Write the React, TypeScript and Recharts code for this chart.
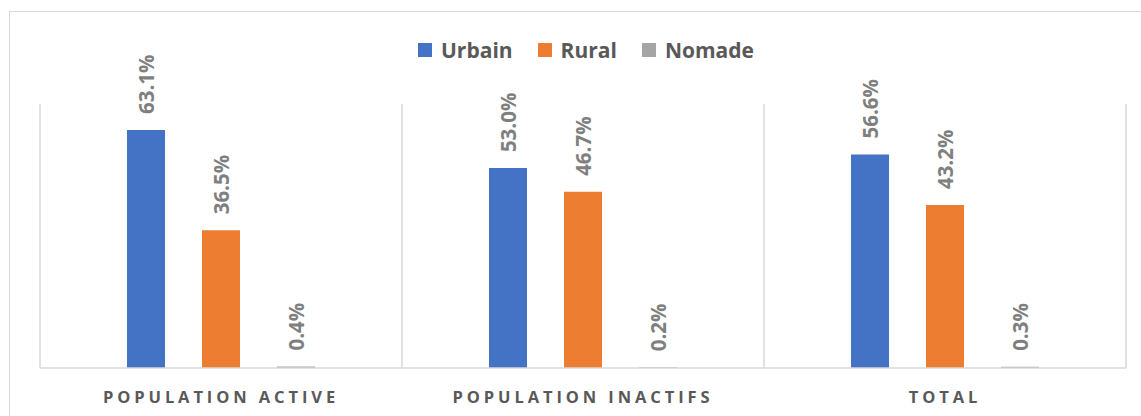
import { BarChart, Bar, XAxis, YAxis, CartesianGrid, LabelList } from 'recharts';

const categories = ['POPULATION ACTIVE', 'POPULATION INACTIFS', 'TOTAL'];
const urbain = [63.1, 53.0, 56.6];
const rural = [36.5, 46.7, 43.2];
const nomade = [0.4, 0.2, 0.3];

const SERIES = [
  { key: 'urbain', name: 'Urbain', color: '#4472C4' },
  { key: 'rural', name: 'Rural', color: '#ED7D31' },
  { key: 'nomade', name: 'Nomade', color: '#A5A5A5' },
];

const data = categories.map((name, i) => ({
  name,
  urbain: urbain[i],
  rural: rural[i],
  nomade: nomade[i],
}));

const FONT = '"Open Sans", "Noto Sans", sans-serif';

// rotated value label sitting above each bar
const RotatedLabel = (props: any) => {
  const { x, y, width, value } = props;
  const cx = x + width / 2;
  const y0 = y - 16;
  return (
    <text
      x={cx}
      y={y0}
      transform={`rotate(-90 ${cx} ${y0})`}
      textAnchor="start"
      dominantBaseline="central"
      fill="#7F7F7F"
      fontFamily={FONT}
      fontWeight={700}
      fontSize={20.5}
    >
      {`${Number(value).toFixed(1)}%`}
    </text>
  );
};

const CategoryTick = (props: any) => {
  const { x, y, payload } = props;
  return (
    <text
      x={x}
      y={y}
      dy={35}
      textAnchor="middle"
      fill="#595959"
      fontFamily={FONT}
      fontWeight={700}
      fontSize={16.5}
      letterSpacing={3.9}
    >
      {payload.value}
    </text>
  );
};

export default function App() {
  return (
    <div style={{ position: 'fixed', left: 0, top: 0, width: 1141, height: 416, background: '#fff', overflow: 'hidden' }}>
      <div
        style={{
          position: 'absolute',
          left: 9,
          top: 11,
          width: 1160,
          height: 440,
          border: '1.5px solid #D9D9D9',
        }}
      />
      <div
        style={{
          position: 'absolute',
          left: 418,
          top: 36,
          display: 'flex',
          alignItems: 'center',
          fontFamily: FONT,
          fontWeight: 700,
          fontSize: 21,
          color: '#595959',
          lineHeight: '28px',
        }}
      >
        {SERIES.map((s) => (
          <div key={s.key} style={{ display: 'flex', alignItems: 'center', marginRight: 25 }}>
            <span style={{ width: 14, height: 14, background: s.color, marginRight: 9, display: 'inline-block' }} />
            <span>{s.name}</span>
          </div>
        ))}
      </div>
      <div style={{ position: 'absolute', left: 0, top: 0 }}>
        <BarChart
          width={1141}
          height={416}
          data={data}
          margin={{ top: 104, right: 15, bottom: 8, left: 40 }}
          barSize={38}
          barGap={37}
        >
          <CartesianGrid
            horizontal={false}
            stroke="#D9D9D9"
            strokeWidth={1.5}
            verticalCoordinatesGenerator={({ offset }: any) => [
              offset.left,
              offset.left + offset.width / 3,
              offset.left + (2 * offset.width) / 3,
              offset.left + offset.width,
            ]}
          />
          <XAxis
            dataKey="name"
            height={40}
            tickLine={false}
            tickSize={0}
            tickMargin={0}
            axisLine={{ stroke: '#D9D9D9', strokeWidth: 1.5 }}
            tick={<CategoryTick />}
            interval={0}
          />
          <YAxis hide domain={[0, 70]} />
          {SERIES.map((s) => (
            <Bar key={s.key} dataKey={s.key} name={s.name} fill={s.color} isAnimationActive={false}>
              <LabelList dataKey={s.key} content={<RotatedLabel />} />
            </Bar>
          ))}
        </BarChart>
      </div>
    </div>
  );
}
